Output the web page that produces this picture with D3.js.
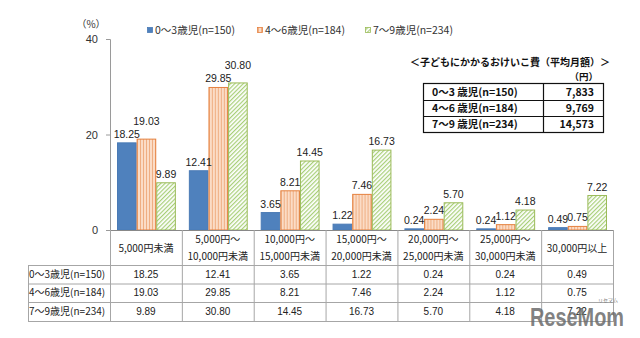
<!DOCTYPE html>
<html><head><meta charset="utf-8">
<script src="https://cdn.jsdelivr.net/npm/d3@7"></script>
<style>
html,body{margin:0;padding:0;background:#fff;}
svg{display:block;font-family:"Noto Sans CJK JP","Noto Sans",sans-serif;}
</style></head>
<body><svg id="c" width="640" height="338"></svg>
<script>
// ---- data ----
const categories = ["5,000円未満","5,000円～\n10,000円未満","10,000円～\n15,000円未満","15,000円～\n20,000円未満","20,000円～\n25,000円未満","25,000円～\n30,000円未満","30,000円以上"];
const seriesNames = ["0～3歳児(n=150)","4～6歳児(n=184)","7～9歳児(n=234)"];
const age0to3 = [18.25,12.41,3.65,1.22,0.24,0.24,0.49];
const age4to6 = [19.03,29.85,8.21,7.46,2.24,1.12,0.75];
const age7to9 = [9.89,30.80,14.45,16.73,5.70,4.18,7.22];
const yTicks = [0,20,40];
const insetTitle = "＜子どもにかかるおけいこ費（平均月額）＞";
const insetUnit = "（円）";
const insetLabels = ["0～3 歳児(n=150)","4～6 歳児(n=184)","7～9 歳児(n=234)"];
const insetValues = [7833,9769,14573];

const seriesValues = [age0to3, age4to6, age7to9];
const svg = d3.select("#c");
const defs = svg.append("defs");

// patterns
const pO = defs.append("pattern").attr("id","pO").attr("patternUnits","userSpaceOnUse").attr("width",3).attr("height",3);
pO.append("rect").attr("width",3).attr("height",3).attr("fill","#FBDCC6");
pO.append("line").attr("x1",0.5).attr("x2",0.5).attr("y1",0).attr("y2",3).attr("stroke","#EFAE82").attr("stroke-width",1);
const pG = defs.append("pattern").attr("id","pG").attr("patternUnits","userSpaceOnUse").attr("width",3).attr("height",3).attr("patternTransform","rotate(45)");
pG.append("rect").attr("width",3).attr("height",3).attr("fill","#ffffff");
pG.append("line").attr("x1",0.6).attr("x2",0.6).attr("y1",0).attr("y2",3).attr("stroke","#A8CF78").attr("stroke-width",1.2);

const fills = ["#4F81BD","url(#pO)","url(#pG)"];
const strokes = ["#4A7AB5","#E5813F","#9BBB59"];

// scales
const x = d3.scaleBand().domain(categories).range([110,613]).paddingInner(0).paddingOuter(0);
const xs = d3.scaleBand().domain(d3.range(3)).range([7, x.bandwidth()-6]).padding(0);
const y = d3.scaleLinear().domain([0,40]).range([230,39]);

// y axis
const ya = svg.append("g").attr("transform","translate(110,0)")
  .call(d3.axisLeft(y).tickValues(yTicks).tickSize(4).tickPadding(8).tickFormat(d3.format("d")));
ya.select(".domain").attr("stroke","#9A9A9A");
ya.selectAll(".tick line").attr("stroke","#9A9A9A");
ya.selectAll("text").attr("font-size",11).attr("fill","#333").attr("font-family","Liberation Sans, sans-serif");
svg.append("text").attr("x",91).attr("y",28).attr("text-anchor","middle").attr("font-size",10).attr("fill","#333").text("（%）");

// bars
const groups = svg.append("g").selectAll("g").data(categories).join("g")
  .attr("transform",d=>`translate(${x(d)},0)`);
groups.each(function(cat,ci){
  const g = d3.select(this);
  seriesValues.forEach((vals,si)=>{
    g.append("rect").attr("x",xs(si)+0.5).attr("y",y(vals[ci])).attr("width",xs.bandwidth()-1)
      .attr("height",Math.max(0,y(0)-y(vals[ci])))
      .attr("fill",fills[si]).attr("stroke",strokes[si]).attr("stroke-width",1);
  });
});
// value labels with simple collision avoidance
groups.each(function(cat,ci){
  const g = d3.select(this);
  const placed = [];
  seriesValues.forEach((vals,si)=>{
    const cx = xs(si)+xs.bandwidth()/2;
    const t = g.append("text").attr("x",cx).attr("text-anchor","middle").attr("font-size",10.5)
      .attr("fill","#222").attr("font-family","Liberation Sans, sans-serif").text(vals[ci].toFixed(2));
    const w = t.node().getComputedTextLength();
    let base = y(vals[ci]) - 5;
    placed.forEach(p=>{
      if (Math.abs(p.cx-cx) < (p.w+w)/2 - 2 && Math.abs(p.base-base) < 11) base = p.base - 13;
    });
    t.attr("y",base);
    placed.push({cx,w,base});
  });
});

// x axis line
svg.append("line").attr("x1",110).attr("x2",613).attr("y1",230.5).attr("y2",230.5).attr("stroke","#888");

// data table
const rowY = [230,265,283.5,302,321];
const tg = svg.append("g");
const lc = "#A6A6A6";
categories.forEach((c,i)=>{
  tg.append("line").attr("x1",x(c)+0.5).attr("x2",x(c)+0.5).attr("y1",230).attr("y2",321).attr("stroke",lc);
});
tg.append("line").attr("x1",613.5).attr("x2",613.5).attr("y1",230).attr("y2",321).attr("stroke",lc);
tg.append("line").attr("x1",28.5).attr("x2",28.5).attr("y1",265).attr("y2",321).attr("stroke",lc);
rowY.slice(1).forEach(yy=>{
  tg.append("line").attr("x1",28).attr("x2",614).attr("y1",yy+0.5).attr("y2",yy+0.5).attr("stroke",lc);
});
categories.forEach(c=>{
  const lines = c.split("\n");
  const cx = x(c)+x.bandwidth()/2;
  const t = tg.append("text").attr("text-anchor","middle").attr("font-size",10).attr("fill","#222");
  if (lines.length===1) t.append("tspan").attr("x",cx).attr("y",252).text(lines[0]);
  else {
    t.append("tspan").attr("x",cx).attr("y",243).text(lines[0]);
    t.append("tspan").attr("x",cx).attr("y",260).text(lines[1]);
  }
});
seriesNames.forEach((s,si)=>{
  const yy = (rowY[si+1]+rowY[si+2])/2 + 3.5;
  tg.append("text").attr("x",29).attr("y",yy).attr("font-size",10).attr("fill","#222").text(s);
  categories.forEach((c,ci)=>{
    tg.append("text").attr("x",x(c)+x.bandwidth()/2).attr("y",yy).attr("text-anchor","middle")
      .attr("font-size",10).attr("fill","#222").attr("font-family","Liberation Sans, sans-serif")
      .text(seriesValues[si][ci].toFixed(2));
  });
});

// legend
const legX = [147,257,365];
seriesNames.forEach((s,si)=>{
  svg.append("rect").attr("x",legX[si]+0.5).attr("y",27.5).attr("width",5).attr("height",5)
    .attr("fill",fills[si]).attr("stroke",strokes[si]).attr("stroke-width",0.8);
  svg.append("text").attr("x",legX[si]+8).attr("y",34).attr("font-size",10.5).attr("fill","#333").text(s);
});

// inset table
svg.append("text").attr("x",410).attr("y",66).attr("font-size",10).attr("font-weight","bold").attr("fill","#111").text(insetTitle);
svg.append("text").attr("x",598).attr("y",80).attr("text-anchor","end").attr("font-size",9.5).attr("font-weight","bold").attr("fill","#111").text(insetUnit);
const iy = [83,100,116,132];
const ig = svg.append("g");
ig.append("rect").attr("x",423.5).attr("y",83.5).attr("width",180).attr("height",49).attr("fill","none").attr("stroke","#111").attr("stroke-width",1.2);
ig.append("line").attr("x1",543.5).attr("x2",543.5).attr("y1",83).attr("y2",133).attr("stroke","#111").attr("stroke-width",1.2);
[100,116].forEach(yy=>ig.append("line").attr("x1",423).attr("x2",604).attr("y1",yy+0.5).attr("y2",yy+0.5).attr("stroke","#111").attr("stroke-width",1.2));
insetLabels.forEach((l,i)=>{
  const yy = (iy[i]+iy[i+1])/2 + 4;
  ig.append("text").attr("x",432).attr("y",yy).attr("font-size",10.5).attr("font-weight","bold").attr("fill","#111").text(l);
  ig.append("text").attr("x",594).attr("y",yy).attr("text-anchor","end").attr("font-size",10.5).attr("font-weight","bold").attr("fill","#111").text(d3.format(",")(insetValues[i]));
});

// watermark
svg.append("text").attr("x",530).attr("y",326).attr("font-size",26).attr("font-weight","bold")
  .attr("font-family","Liberation Sans, sans-serif").attr("textLength",94).attr("lengthAdjust","spacingAndGlyphs")
  .attr("fill","#6b6b6b").attr("fill-opacity",0.85).text("ReseMom");
svg.append("text").attr("x",598).attr("y",302).attr("font-size",5).attr("fill","#777").text("リセマム");
</script></body></html>
